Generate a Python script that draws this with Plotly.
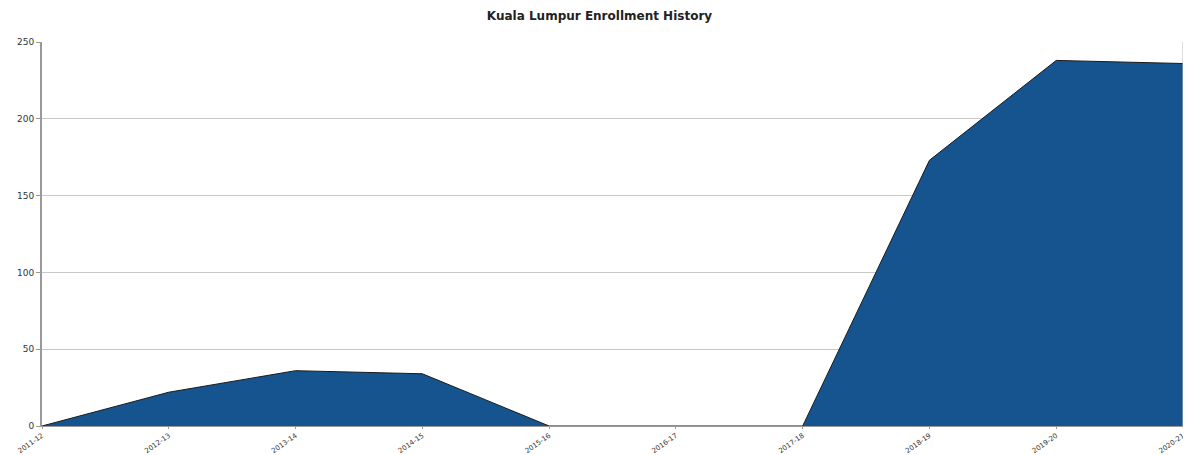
import plotly.graph_objects as go

years = ["2011-12", "2012-13", "2013-14", "2014-15", "2015-16", "2016-17",
         "2017-18", "2018-19", "2019-20", "2020-21"]
enrollment = [0, 22, 36, 34, 0, 0, 0, 173, 238, 236]
y_ticks = [0, 50, 100, 150, 200, 250]

fig = go.Figure()
fig.add_trace(go.Scatter(
    x=years, y=enrollment, mode="lines", fill="tozeroy",
    fillcolor="#15548F", line=dict(color="#1a1a1a", width=1),
    hoverinfo="x+y", showlegend=False,
))

# page body has an 8px margin, so the figure is sized to fit the 1191x455 window
fig.update_layout(
    width=1183, height=447,
    margin=dict(l=34, r=8, t=34, b=29, autoexpand=False),
    paper_bgcolor="white", plot_bgcolor="white",
    title=dict(text="<b>Kuala Lumpur Enrollment History</b>", x=0.5, xanchor="center",
               yref="container", y=1, yanchor="top", pad=dict(t=4),
               font=dict(family="DejaVu Sans", size=12, color="#222")),
    font=dict(family="DejaVu Sans", size=9, color="#333"),
)
fig.update_xaxes(
    type="category", range=[0, len(years) - 1], automargin=False,
    showgrid=False, showline=True, linecolor="#999", linewidth=1,
    ticks="outside", ticklen=2, tickcolor="#999",
    tickangle=-35, tickfont=dict(size=7), mirror=False,
)
fig.update_yaxes(
    range=[0, 250], tickvals=y_ticks, automargin=False,
    showgrid=True, gridcolor="#c8c8c8", gridwidth=1,
    showline=True, linecolor="#999", linewidth=2,
    ticks="outside", ticklen=4, tickcolor="#999", zeroline=False,
    tickfont=dict(size=9),
)
# right border line
fig.add_shape(type="line", xref="paper", yref="paper", x0=1, x1=1, y0=0, y1=1,
              line=dict(color="#bbb", width=1))

fig.write_html("out.html")
